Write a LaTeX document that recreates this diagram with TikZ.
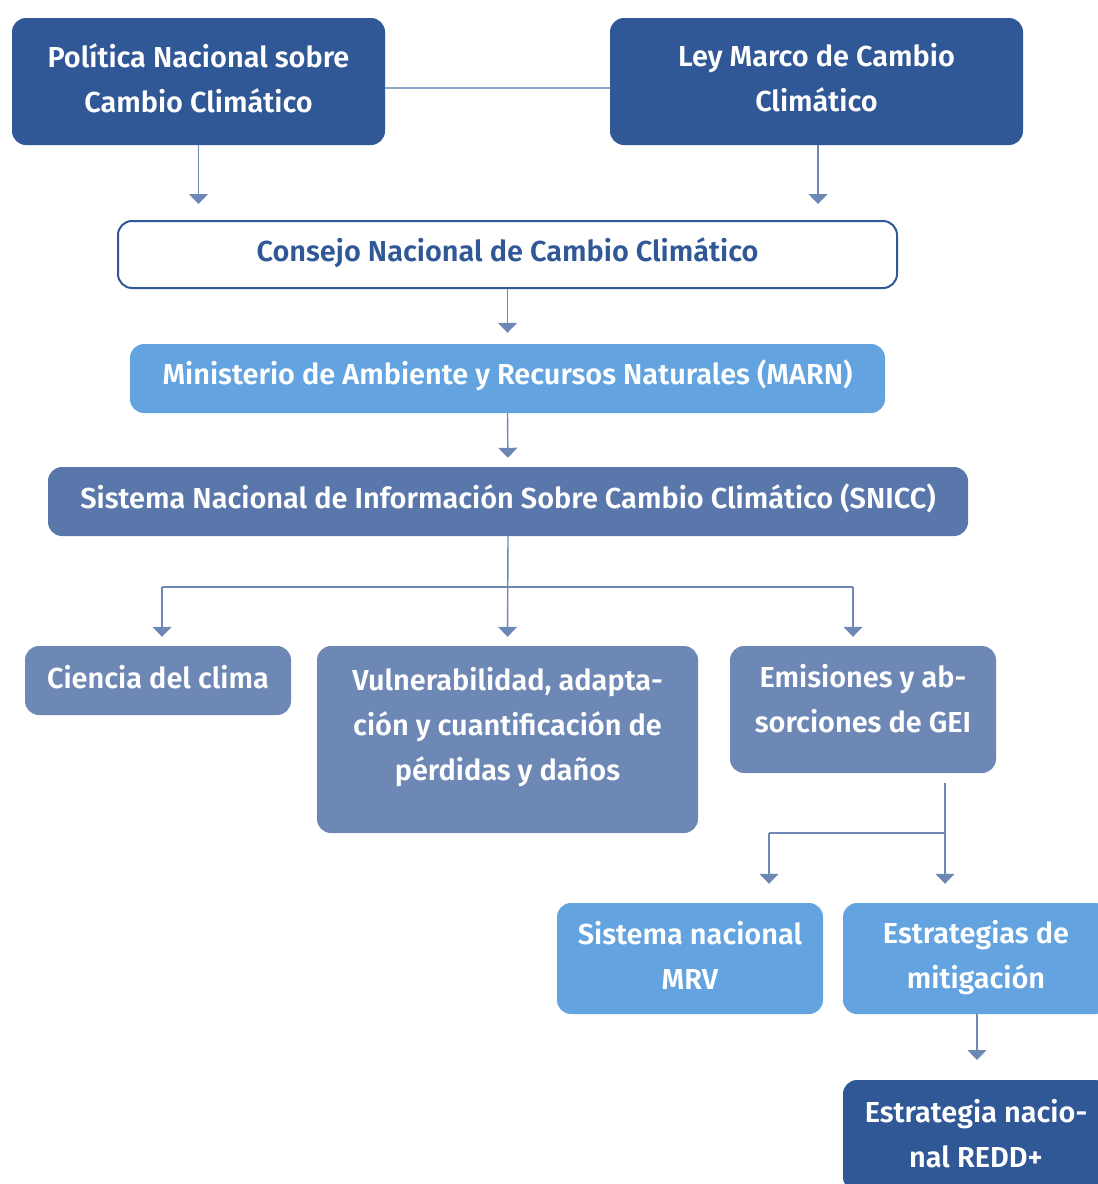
\documentclass[tikz,border=0pt]{standalone}
\usepackage{fontspec}
\setmainfont{Fira Sans}[BoldFont={Fira Sans SemiBold}]
\usetikzlibrary{arrows.meta}
\definecolor{darkblue}{RGB}{48,87,150}
\definecolor{lightblue}{RGB}{98,163,224}
\definecolor{midblue}{RGB}{110,136,182}
\definecolor{sysblue}{RGB}{90,119,171}
\definecolor{linkblue}{RGB}{110,136,182}
\definecolor{paleline}{RGB}{143,165,203}
\tikzset{
  box/.style={rounded corners=14pt, inner sep=0pt, draw=none},
  boxtext/.style={font=\bfseries\fontsize{28.9}{45}\selectfont, text=white, align=center, inner sep=0pt},
  arr/.style={draw=linkblue, line width=1.4pt, -{Triangle[width=19pt,length=10pt]}},
  link/.style={draw=linkblue, line width=1.4pt},
}
\begin{document}
\begin{tikzpicture}[x=1pt,y=-1pt]
\useasboundingbox (0,0) rectangle (1098,1184);
% top level
\node[box, fill=darkblue, minimum width=373pt, minimum height=127pt] (pol) at (198.5,81.5) {};
\node[boxtext] (polt) at (198.5,78) {Política Nacional sobre\\Cambio Climático};
\node[box, fill=darkblue, minimum width=413pt, minimum height=127pt] (ley) at (816.5,81.5) {};
\node[boxtext] (leyt) at (816.5,78) {Ley Marco de Cambio\\Climático};
\draw[draw=paleline, line width=1.4pt] (pol.east |- 0,88) -- (ley.west |- 0,88);
% council
\node[box, fill=white, draw=darkblue, line width=2pt, minimum width=779pt, minimum height=67pt] (con) at (507.5,254.5) {};
\node[boxtext, text=darkblue] (cont) at (507.5,253) {Consejo Nacional de Cambio Climático};
\draw[arr, shorten >=16pt] (pol.south) -- (pol.south |- con.north);
\draw[arr, shorten >=17pt] (ley.south -| 818,0) -- (818,221);
% ministry
\node[box, fill=lightblue, minimum width=755pt, minimum height=69pt] (marn) at (507.5,378.5) {};
\node[boxtext] (marnt) at (507.5,375) {Ministerio de Ambiente y Recursos Naturales (MARN)};
\draw[arr, shorten >=11pt] (con.south) -- (marn.north);
% information system
\node[box, fill=sysblue, minimum width=920pt, minimum height=69pt] (sni) at (508,501.5) {};
\node[boxtext] (snit) at (508,498) {Sistema Nacional de Información Sobre Cambio Climático (SNICC)};
\draw[arr, shorten >=9pt] (marn.south) -- (sni.north);
% thematic components
\node[box, fill=midblue, minimum width=266pt, minimum height=69pt] (cie) at (158,680.5) {};
\node[boxtext] (ciet) at (158,677) {Ciencia del clima};
\node[box, fill=midblue, minimum width=381pt, minimum height=187pt] (vul) at (507.5,739.5) {};
\node[boxtext] (vult) at (507.5,727.5) {Vulnerabilidad, adapta-\\ción y cuantificación de\\pérdidas y daños};
\node[box, fill=midblue, minimum width=266pt, minimum height=127pt] (emi) at (863,709.5) {};
\node[boxtext] (emit) at (863,698.5) {Emisiones y ab-\\sorciones de GEI};
\coordinate (bl) at (162,587);
\coordinate (br) at (853,587);
\draw[arr, shorten >=9pt] (sni.south) -- (vul.north);
\draw[link] (bl) -- (br);
\draw[arr, shorten >=9pt] (bl) -- (bl |- cie.north);
\draw[arr, shorten >=9pt] (br) -- (br |- emi.north);
% mitigation branch
\node[box, fill=lightblue, minimum width=266pt, minimum height=111pt] (mrv) at (690,958.5) {};
\node[boxtext] (mrvt) at (690,955.5) {Sistema nacional\\MRV};
\node[box, fill=lightblue, minimum width=266pt, minimum height=111pt] (mit) at (976,958.5) {};
\node[boxtext] (mitt) at (976,958) {Estrategias de\\mitigación};
\coordinate (es) at (945,783);
\coordinate (ej) at (945,833);
\coordinate (ml) at (769,833);
\draw[arr, shorten >=19pt] (es) -- (es |- mit.north);
\draw[link] (ej) -- (ml);
\draw[arr, shorten >=19pt] (ml) -- (ml |- mrv.north);
\node[box, fill=darkblue, minimum width=266pt, minimum height=111pt] (red) at (976,1135.5) {};
\node[boxtext] (redt) at (976,1133.5) {Estrategia nacio-\\nal REDD+};
\draw[arr, shorten >=20pt] (mit.south -| 977,0) -- (977,1080);
\end{tikzpicture}
\end{document}
